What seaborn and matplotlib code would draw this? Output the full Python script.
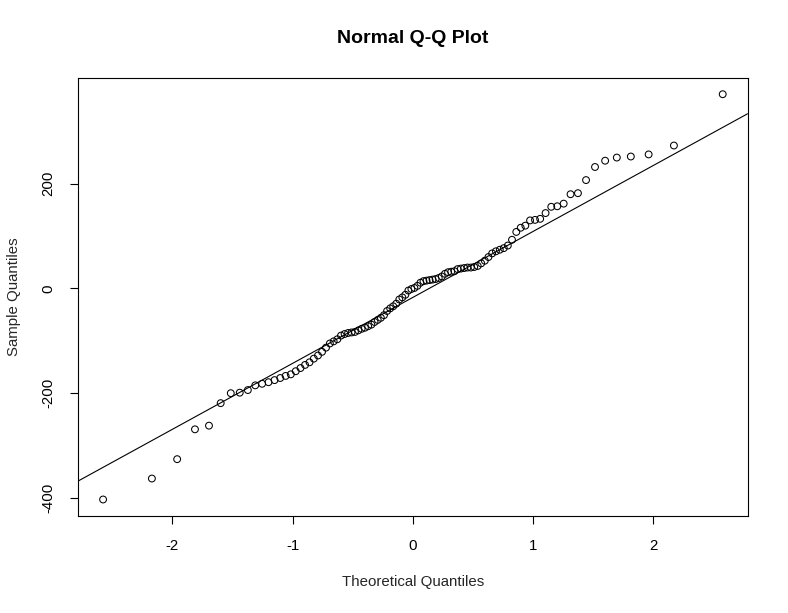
import numpy as np
import pandas as pd
import seaborn as sns
import matplotlib
matplotlib.use("Agg")
import matplotlib.pyplot as plt
from statistics import NormalDist

# Sorted sample values (n = 100)
sample = [
    -403, -363, -326, -269, -262, -219, -200, -199, -194, -185,
    -182, -179, -175, -171, -167, -164, -158, -152, -146, -141,
    -134, -128, -121, -113, -105, -101, -97, -90, -87, -85,
    -84, -83, -80, -77, -75, -72, -69, -64, -60, -56,
    -51, -43, -38, -34, -29, -21, -17, -12, -4, -1,
    1, 5, 11, 14, 15, 16, 17, 18, 20, 23,
    28, 31, 32, 33, 37, 38, 39, 40, 40, 41,
    43, 48, 53, 60, 67, 71, 74, 77, 82, 93,
    108, 116, 120, 130, 131, 133, 144, 156, 157, 162,
    180, 182, 207, 232, 244, 250, 252, 256, 273, 371,
]
x_ticks = [-2, -1, 0, 1, 2]
y_ticks = [-400, -200, 0, 200]
title = "Normal Q-Q Plot"
x_label = "Theoretical Quantiles"
y_label = "Sample Quantiles"

n = len(sample)
nd = NormalDist()
theo = [nd.inv_cdf((i - 0.5) / n) for i in range(1, n + 1)]
df = pd.DataFrame({"theo": theo, "sample": sample})

# qqline (through the quartiles, R default type 7)
q1, q3 = np.percentile(sample, [25, 75])
t1, t3 = nd.inv_cdf(0.25), nd.inv_cdf(0.75)
slope = (q3 - q1) / (t3 - t1)
intercept = q1 - slope * t1

sns.set_theme(style="white")
plt.rcParams["font.family"] = ["Liberation Sans", "DejaVu Sans"]
plt.rcParams["text.color"] = "black"

W, H = 788, 613
fig = plt.figure(figsize=(W / 100, H / 100), dpi=100)
left, right, top, bottom = 78.3, 747.5, 78.0, 515.7
ax = fig.add_axes([left / W, (H - bottom) / H, (right - left) / W, (bottom - top) / H])

sns.scatterplot(data=df, x="theo", y="sample", ax=ax, marker="o", s=24,
                linewidth=0.75, legend=False)
for coll in ax.collections:
    coll.set_facecolor("none")
    coll.set_edgecolor("black")
    coll.set_linewidth(0.75)

ax.axline((0, intercept), slope=slope, color="black", lw=0.8)

def pad_range(v):
    lo, hi = min(v), max(v)
    d = (hi - lo) * 0.04
    return lo - d, hi + d

ax.set_xlim(*pad_range(theo))
ax.set_ylim(*pad_range(sample))

ax.set_xticks(x_ticks)
ax.set_xticklabels([str(t) for t in x_ticks], va="center", fontsize=10.8)
ax.set_yticks(y_ticks)
ax.set_yticklabels([str(t) for t in y_ticks], rotation=90, va="center",
                   ha="center", fontsize=10.8)
ax.tick_params(axis="both", direction="out", length=5.8, width=0.8,
               colors="black", bottom=True, left=True)
ax.tick_params(axis="x", pad=16)
ax.tick_params(axis="y", pad=15.8)

for sp in ax.spines.values():
    sp.set_visible(True)
    sp.set_color("black")
    sp.set_linewidth(0.8)

ax.set_xlabel(x_label, fontsize=10.8, va="center")
ax.set_ylabel(y_label, fontsize=10.8, va="center")
ax.xaxis.set_label_coords(0.5, (bottom - 582) / (bottom - top))
ax.yaxis.set_label_coords((14 - left) / (right - left), 0.5)

fig.text(0.5 * (left + right) / W, 1 - 38.5 / H, title, ha="center", va="center",
         fontsize=14, fontweight="bold")

fig.savefig("out.png", dpi=100, facecolor="white")
